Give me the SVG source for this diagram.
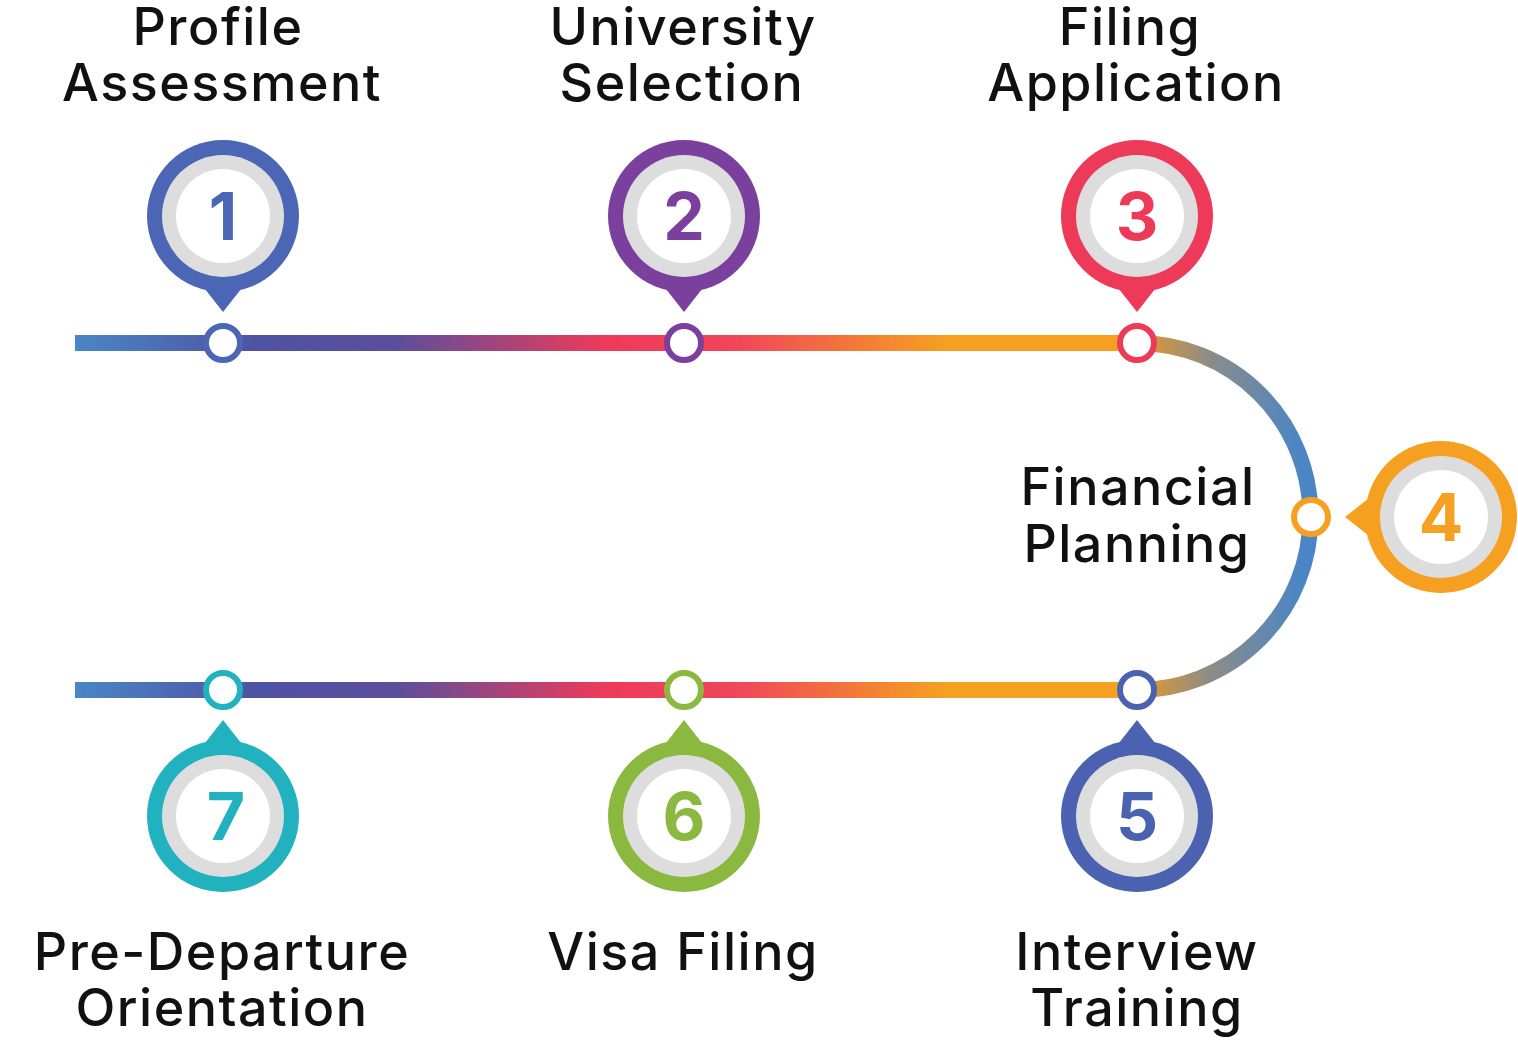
<svg xmlns="http://www.w3.org/2000/svg" width="1518" height="1059" viewBox="0 0 1518 1059">
<style>
.lbl{font-family:Inter,"Open Sans","Liberation Sans",sans-serif;font-size:52px;font-weight:500;fill:#111;text-anchor:middle;letter-spacing:1.5px}
.num{font-family:Inter,"Open Sans","Liberation Sans",sans-serif;font-size:66px;font-weight:700;text-anchor:middle}
.ring{fill:#dddddd}
.core{fill:#ffffff}
.dot{fill:#ffffff;stroke-width:6}
</style>
<defs>
<linearGradient id="gLine" gradientUnits="userSpaceOnUse" x1="75" y1="0" x2="1137" y2="0">
<stop offset="0" stop-color="#4a86c5"/>
<stop offset="0.17" stop-color="#4f52a3"/>
<stop offset="0.3" stop-color="#5a4f9c"/>
<stop offset="0.5" stop-color="#ee3a59"/>
<stop offset="0.62" stop-color="#f0455a"/>
<stop offset="0.82" stop-color="#f5a020"/>
<stop offset="1" stop-color="#f5a020"/>
</linearGradient>
<linearGradient id="gArc" gradientUnits="userSpaceOnUse" x1="1137" y1="0" x2="1320" y2="0">
<stop offset="0" stop-color="#e69a2a"/>
<stop offset="0.4" stop-color="#8c8c88"/>
<stop offset="0.9" stop-color="#4a86c5"/>
<stop offset="1" stop-color="#4a86c5"/>
</linearGradient>
</defs>

<g id="connectors">
<rect x="75" y="335" width="1062" height="16" fill="url(#gLine)"/>
<rect x="75" y="682" width="1062" height="16" fill="url(#gLine)"/>
<path d="M1137,343 A173.5,173.5 0 0 1 1137,690" fill="none" stroke="url(#gArc)" stroke-width="16"/>
</g>

<g id="node1">
<text class="lbl" x="218" y="45">Profile</text>
<text class="lbl" x="222" y="101">Assessment</text>
<g fill="#4a66b5"><circle cx="223" cy="216" r="76"/><polygon points="201,284 245,284 223,312"/></g>
<circle class="ring" cx="223" cy="216" r="61"/><circle class="core" cx="223" cy="216" r="47"/>
<text class="num" x="223" y="240" fill="#4a66b5">1</text>
<circle class="dot" cx="223" cy="343" r="17" stroke="#4a66b5"/>
</g>

<g id="node2">
<text class="lbl" x="683" y="45">University</text>
<text class="lbl" x="682" y="101">Selection</text>
<g fill="#7b3f9e"><circle cx="684" cy="216" r="76"/><polygon points="662,284 706,284 684,312"/></g>
<circle class="ring" cx="684" cy="216" r="61"/><circle class="core" cx="684" cy="216" r="47"/>
<text class="num" x="684" y="240" fill="#7b3f9e">2</text>
<circle class="dot" cx="684" cy="343" r="17" stroke="#7b3f9e"/>
</g>

<g id="node3">
<text class="lbl" x="1130" y="45">Filing</text>
<text class="lbl" x="1136" y="101">Application</text>
<g fill="#ee3a59"><circle cx="1137" cy="216" r="76"/><polygon points="1115,284 1159,284 1137,312"/></g>
<circle class="ring" cx="1137" cy="216" r="61"/><circle class="core" cx="1137" cy="216" r="47"/>
<text class="num" x="1137" y="240" fill="#ee3a59">3</text>
<circle class="dot" cx="1137" cy="343" r="17" stroke="#ee3a59"/>
</g>

<g id="node4">
<text class="lbl" x="1138" y="505">Financial</text>
<text class="lbl" x="1137" y="562">Planning</text>
<g fill="#f5a020"><circle cx="1441" cy="517" r="76"/><polygon points="1373,495 1373,539 1345,517"/></g>
<circle class="ring" cx="1441" cy="517" r="61"/><circle class="core" cx="1441" cy="517" r="47"/>
<text class="num" x="1441" y="541" fill="#f5a020">4</text>
<circle class="dot" cx="1311" cy="517" r="17" stroke="#f5a020"/>
</g>

<g id="node5">
<text class="lbl" x="1137" y="970">Interview</text>
<text class="lbl" x="1137" y="1026">Training</text>
<g fill="#4a62b0"><circle cx="1137" cy="816" r="76"/><polygon points="1115,748 1159,748 1137,720"/></g>
<circle class="ring" cx="1137" cy="816" r="61"/><circle class="core" cx="1137" cy="816" r="47"/>
<text class="num" x="1137" y="840" fill="#4a62b0">5</text>
<circle class="dot" cx="1137" cy="690" r="17" stroke="#4a62b0"/>
</g>

<g id="node6">
<text class="lbl" x="683" y="970">Visa Filing</text>
<g fill="#8bb940"><circle cx="684" cy="816" r="76"/><polygon points="662,748 706,748 684,720"/></g>
<circle class="ring" cx="684" cy="816" r="61"/><circle class="core" cx="684" cy="816" r="47"/>
<text class="num" x="684" y="840" fill="#8bb940">6</text>
<circle class="dot" cx="684" cy="690" r="17" stroke="#8bb940"/>
</g>

<g id="node7">
<text class="lbl" x="222" y="970">Pre-Departure</text>
<text class="lbl" x="222" y="1026">Orientation</text>
<g fill="#22b2bf"><circle cx="223" cy="816" r="76"/><polygon points="201,748 245,748 223,720"/></g>
<circle class="ring" cx="223" cy="816" r="61"/><circle class="core" cx="223" cy="816" r="47"/>
<text class="num" x="226" y="840" fill="#22b2bf">7</text>
<circle class="dot" cx="223" cy="690" r="17" stroke="#22b2bf"/>
</g>
</svg>
